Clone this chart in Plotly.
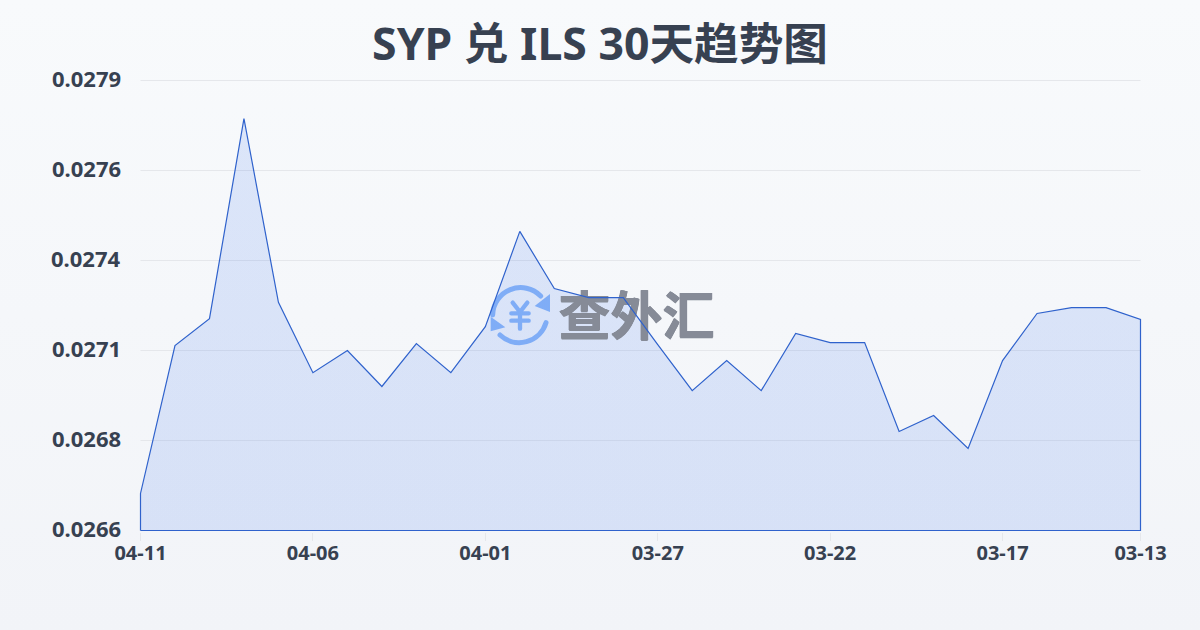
import base64
import plotly.graph_objects as go

dates = ["04-11","04-10","04-09","04-08","04-07","04-06","04-05","04-04","04-03","04-02",
         "04-01","03-31","03-30","03-29","03-28","03-27","03-26","03-25","03-24","03-23",
         "03-22","03-21","03-20","03-19","03-18","03-17","03-16","03-15","03-14","03-13"]
rates = [0.026687,0.027114,0.027192,0.027770,0.027239,0.027036,0.027100,0.026996,0.027120,0.027036,
         0.027169,0.027444,0.027279,0.027253,0.027253,0.027117,0.026984,0.027071,0.026984,0.027149,
         0.027123,0.027123,0.026866,0.026912,0.026817,0.027071,0.027207,0.027224,0.027224,0.027190]
y_ticks = [0.02658,0.02684,0.02710,0.02736,0.02762,0.02788]
y_labels = ["0.0266","0.0268","0.0271","0.0274","0.0276","0.0279"]
x_labels = ["04-11","04-06","04-01","03-27","03-22","03-17","03-13"]
title = "SYP 兑 ILS 30天趋势图"
watermark = "查外汇"
base = y_ticks[0]

FONT = "'Noto Sans', 'Noto Sans CJK SC', sans-serif"
INK = "#374151"
WM = "#868b97"

def svg_uri(svg):
    return "data:image/svg+xml;base64," + base64.b64encode(svg.encode()).decode()

bg = svg_uri('<svg xmlns="http://www.w3.org/2000/svg" width="1200" height="630" preserveAspectRatio="none">'
             '<defs><linearGradient id="g" x1="0" y1="0" x2="0" y2="1"><stop offset="0" stop-color="#f8fafc"/>'
             '<stop offset="1" stop-color="#f2f4f8"/></linearGradient></defs>'
             '<rect width="1200" height="630" fill="url(#g)"/></svg>')
logo = svg_uri('<svg xmlns="http://www.w3.org/2000/svg" width="780" height="270" viewBox="0 0 780 270">'
               '<g fill="none" stroke="#8db8f8" stroke-width="15" stroke-linecap="round" stroke-linejoin="round">'
               '<path d="M68 135 A84 84 0 0 1 212 78"/>'
               '<path d="M228 158 A84 84 0 0 1 90 195"/>'
               '<path d="M128 98 L150 126 L172 98 M150 126 V176 M124 130 H176 M124 152 H176" stroke-width="13"/>'
               '</g><g fill="#8db8f8"><path d="M240 72 V126 L194 108 Z"/><path d="M62 140 V184 L106 172 Z"/></g></svg>')

# plot box 138..1142 x 78..532 gives a little room round the data (140.5..1140.5 x 80.5..530.5),
# so the outline lands on whole pixels and no tick or gridline sits on the box edge
L, T, W, H = 138, 78, 1004, 454
span = y_ticks[-1] - y_ticks[0]
u = span / 450

xs = list(range(len(rates)))
last = xs[-1]
ux = last / 1000
fig = go.Figure()
fig.add_trace(go.Scatter(
    x=[xs[0]] + xs + [last, xs[0]], y=[base] + rates + [base, base],
    mode="none", fill="toself",
    fillgradient=dict(type="vertical", colorscale=[[0, "rgba(37,99,235,0.135)"], [1, "rgba(37,99,235,0.13)"]]),
    hoverinfo="skip", showlegend=False,
))
wm_stroke = ",".join(f"{a}px {b}px 0 {WM}" for a, b in [(0.6, 0), (-0.6, 0), (0, 0.6), (0, -0.6)])
fig.add_trace(go.Scatter(
    x=[last * 0.496], y=[y_ticks[0] + span * 0.4625],
    mode="text", text=[f"<b>{watermark}</b>"], textposition="middle center",
    textfont=dict(size=52, color=WM, family="'Noto Sans CJK SC'", shadow=wm_stroke),
    hoverinfo="skip", showlegend=False, cliponaxis=False,
))
fig.add_trace(go.Scatter(
    x=[xs[0]] + xs + [last, xs[0]], y=[base] + rates + [base, base],
    mode="lines", line=dict(color="#2f62cc", width=1.2),
    hoverinfo="skip", showlegend=False, cliponaxis=False,
))

annotations = [dict(text=f"<b>{t}</b>", xref="paper", yref="y", x=0, y=v, xanchor="right", yanchor="middle",
                    xshift=-15, yshift=3, showarrow=False, font=dict(size=22, color=INK, family=FONT))
               for t, v in zip(y_labels, y_ticks)]

fig.update_layout(
    width=1200, height=630,
    margin=dict(l=L, r=1200 - L - W, t=T, b=630 - T - H),
    paper_bgcolor="#f8fafc", plot_bgcolor="rgba(0,0,0,0)",
    font=dict(family=FONT, color=INK),
    title=dict(text=f"<b>{title}</b>", x=0.5, xanchor="center", y=0.93, yanchor="middle",
               font=dict(size=44.6, color=INK, family=FONT)),
    xaxis=dict(range=[-2.5 * ux, 1001.5 * ux], tickmode="array",
               tickvals=[dates.index(d) for d in x_labels],
               ticktext=[f"<b>{d}</b>" for d in x_labels],
               ticks="outside", ticklen=8, tickcolor="#e5e7eb", tickwidth=1, ticklabelstandoff=-5,
               tickfont=dict(size=20, color=INK), showgrid=False, zeroline=False, showline=False),
    yaxis=dict(range=[base - 1.5 * u, base + 452.5 * u], tickmode="array", tickvals=y_ticks,
               showticklabels=False, ticks="",
               showgrid=False, zeroline=False, showline=False),
    shapes=[dict(type="line", xref="x", yref="y", x0=xs[0], x1=last, y0=v, y1=v, layer="below",
                 line=dict(color="#e5e7eb", width=1)) for v in y_ticks[1:]],
    annotations=annotations,
    images=[
        dict(source=bg, xref="paper", yref="paper", x=-L/W, y=1+T/H, sizex=1200/W, sizey=630/H,
             xanchor="left", yanchor="top", sizing="stretch", layer="below"),
        dict(source=logo, xref="paper", yref="paper", x=(470-L)/W, y=1-(270-T)/H, sizex=260/W, sizey=90/H,
             xanchor="left", yanchor="top", sizing="stretch", layer="below"),
    ],
    hovermode=False,
)
fig.write_html("out.html", config=dict(displayModeBar=False),
               post_script="document.body.style.margin='0';document.body.style.overflow='hidden';")
